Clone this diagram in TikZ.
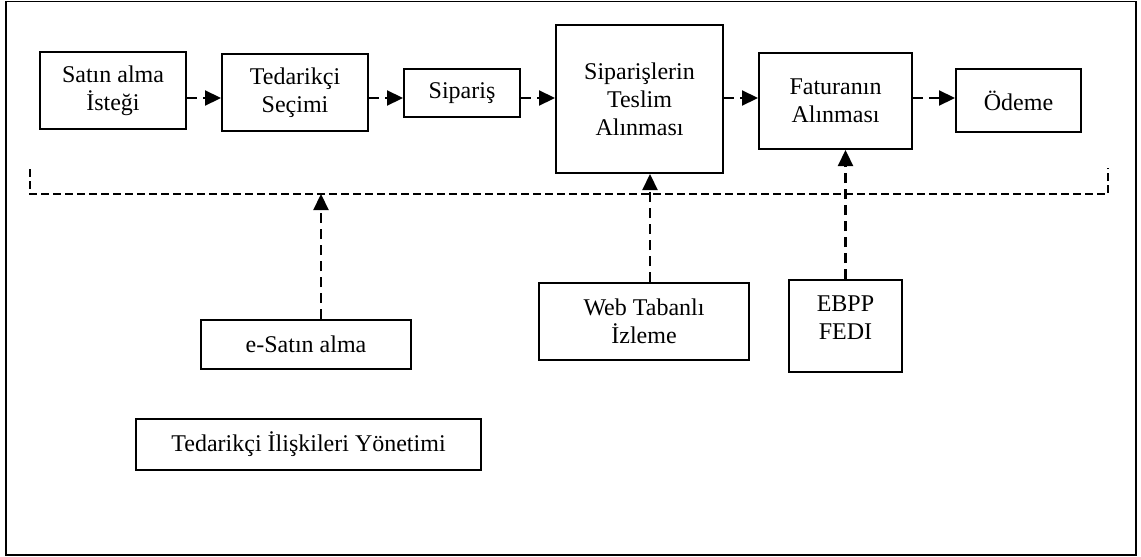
\documentclass[tikz,border=0pt]{standalone}
\usepackage{fontspec}
\setmainfont{Liberation Serif}
\usetikzlibrary{arrows.meta}
\begin{document}
\begin{tikzpicture}[x=1pt,y=-1pt,
  box/.style={draw,line width=2pt,inner sep=0pt,align=center,
    font=\fontsize{24}{28}\selectfont},
  conn/.style={line width=2.2pt,dash pattern=on 10pt off 6pt,
    -{Triangle[length=16pt,width=15pt]}},
  brk/.style={line width=2.2pt,dash pattern=on 8pt off 4pt}]
\useasboundingbox (0,0) rectangle (1141,557);
\draw[line width=1.8pt] (6,1.5) rectangle (1136,555);
% top row
\node[box,minimum width=146pt,minimum height=77pt] (b1) at (113,90.5) {Satın alma\\İsteği};
\node[box,minimum width=146pt,minimum height=77pt] (b2) at (295,92.5) {Tedarikçi\\Seçimi};
\node[box,minimum width=116pt,minimum height=48pt] (b3) at (462,93) {Sipariş};
\node[box,minimum width=167pt,minimum height=148pt] (b4) at (639.5,99) {Siparişlerin\\Teslim\\Alınması};
\node[box,minimum width=153pt,minimum height=96pt] (b5) at (835.5,101) {Faturanın\\Alınması};
\node[box,minimum width=125pt,minimum height=63pt] (b6) at (1018.5,100.5) {Ödeme};
% lower boxes
\node[box,minimum width=210pt,minimum height=49pt] (esat) at (306,344.5) {e-Satın alma};
\node[box,minimum width=345pt,minimum height=51pt] (tiy) at (308.5,444.5) {Tedarikçi İlişkileri Yönetimi};
\node[box,minimum width=210pt,minimum height=77pt] (web) at (644,321.5) {Web Tabanlı\\İzleme};
\node[box,minimum width=113pt,minimum height=92pt] (ebpp) at (845.5,326) {};
\node[box,draw=none,anchor=north] (ebpptxt) at ([yshift=-16pt]ebpp.north) {EBPP\\FEDI};
% helper coordinates
\coordinate (ay) at (0,98);
\coordinate (bl) at (30,169);
\coordinate (blb) at (30,194);
\coordinate (brb) at (1108,194);
\coordinate (br) at (1108,168);
\coordinate (ex) at (321,0);
\coordinate (wx) at (650,0);
% horizontal arrows
\draw[conn] (b1.east |- ay) -- (b2.west |- ay);
\draw[conn] (b2.east |- ay) -- (b3.west |- ay);
\draw[conn] (b3.east |- ay) -- (b4.west |- ay);
\draw[conn] (b4.east |- ay) -- (b5.west |- ay);
\draw[conn] (b5.east |- ay) -- (b6.west |- ay);
% bracket
\draw[brk] (bl) -- (blb) -- (brb) -- (br);
% vertical arrows
\draw[conn] (ex |- esat.north) -- (ex |- blb);
\draw[conn] (wx |- web.north) -- (wx |- b4.south);
\draw[conn] (ebpp.north) -- (ebpp.north |- b5.south);
\end{tikzpicture}
\end{document}
